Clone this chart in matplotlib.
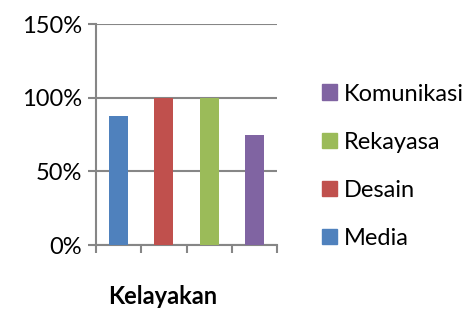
import matplotlib.pyplot as plt
from matplotlib.patches import Patch
from matplotlib.ticker import PercentFormatter

plt.rcParams['font.family'] = ['Lato', 'DejaVu Sans']

series = ['Media', 'Desain', 'Rekayasa', 'Komunikasi']
values = [87.5, 100, 100, 75]
colors = ['#4F81BD', '#C0504D', '#9BBB59', '#8064A2']
yticks = [0, 50, 100, 150]

fig = plt.figure(figsize=(4.73, 3.09), dpi=100)
ax = fig.add_axes([0.203, 0.207, 0.383, 0.715])

pos = list(range(len(series)))
ax.bar(pos, values, width=0.42, color=colors, zorder=3)

ax.set_ylim(0, 150)
ax.set_xlim(-0.5, len(series) - 0.5)
ax.set_yticks(yticks)
ax.yaxis.set_major_formatter(PercentFormatter(decimals=0))
ax.grid(axis='y', color='#868686', linewidth=1.5, zorder=0)
ax.set_xticks([p - 0.5 for p in pos] + [len(series) - 0.5])
ax.set_xticklabels([])
ax.tick_params(axis='both', color='#868686', width=1.5, length=6, labelsize=17, pad=4)

for side in ['top', 'right']:
    ax.spines[side].set_visible(False)
for side in ['left', 'bottom']:
    ax.spines[side].set_color('#868686')
    ax.spines[side].set_linewidth(1.5)

handles = [Patch(color=c, label=s) for s, c in zip(series, colors)][::-1]
fig.legend(handles=handles, loc='center left', bbox_to_anchor=(0.655, 0.462),
           frameon=False, fontsize=17, handlelength=0.64, handleheight=0.64,
           handletextpad=0.3, labelspacing=1.15, borderpad=0)

fig.text(163 / 473, 0.039, 'Kelayakan', ha='center', va='center',
         fontsize=17, fontweight='bold')

fig.savefig('out.png', dpi=100)
